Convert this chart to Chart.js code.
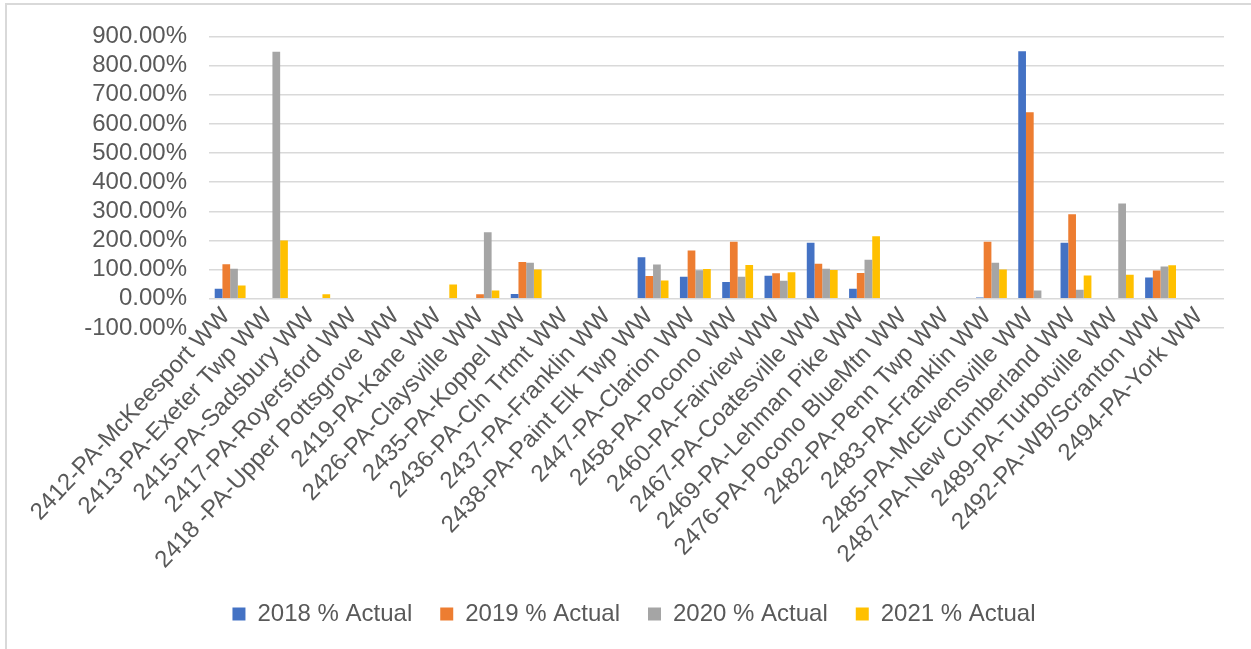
<!DOCTYPE html>
<html>
<head>
<meta charset="utf-8">
<script src="https://cdn.jsdelivr.net/npm/chart.js@4.4.1/dist/chart.umd.min.js"></script>
<style>
    html, body { margin: 0; padding: 0; background: #fff; overflow: hidden; }
    #wrap { position: relative; width: 1251px; height: 649px; }
    #frame {
        position: absolute; left: 5px; top: 3px; width: 1300px; height: 700px;
        border-left: 2px solid #d9d9d9; border-top: 2px solid #d9d9d9;
    }
    #plantChart { position: absolute; left: 0; top: 0; }
</style>
</head>
<body>
<div id="wrap">
    <div id="frame"></div>
    <canvas id="plantChart" width="1251" height="649"></canvas>
</div>
<script>
// plants, in the order they appear on the axis
var plants = [
    '2412-PA-McKeesport WW', '2413-PA-Exeter Twp WW', '2415-PA-Sadsbury WW',
    '2417-PA-Royersford WW', '2418 -PA-Upper Pottsgrove WW', '2419-PA-Kane WW',
    '2426-PA-Claysville WW', '2435-PA-Koppel WW', '2436-PA-Cln Trtmt WW',
    '2437-PA-Franklin WW', '2438-PA-Paint Elk Twp WW', '2447-PA-Clarion WW',
    '2458-PA-Pocono WW', '2460-PA-Fairview WW', '2467-PA-Coatesville WW',
    '2469-PA-Lehman Pike WW', '2476-PA-Pocono BlueMtn WW', '2482-PA-Penn Twp WW',
    '2483-PA-Franklin WW', '2485-PA-McEwensville WW', '2487-PA-New Cumberland WW',
    '2489-PA-Turbotville WW', '2492-PA-WB/Scranton WW', '2494-PA-York WW'
];

// % actual per year (null = no value)
var actual2018 = [35, null, null, null, null, null, null, 17, null, null, 143, 76,
    58, 79, 192, 35, null, null, 5, 849, 192, null, 73, null];
var actual2019 = [119, null, null, null, null, null, 16, 126, null, null, 78, 166,
    196, 88, 120, 89, null, null, 196, 640, 290, null, 97, null];
var actual2020 = [103, 847, null, null, null, null, 228, 124, null, null, 118, 98,
    76, 62, 103, 134, null, null, 124, 29, 31, 327, 111, null];
var actual2021 = [46, 200, 16, null, null, 49, 29, 101, null, null, 63, 102,
    116, 91, 99, 215, null, null, 101, null, 80, 83, 115, null];

var yMin = -100, yMax = 900, yStep = 100;

var textColor = '#595959';
var fontFamily = '"Liberation Sans", Arial, sans-serif';

function series(label, data, color) {
    return {
        label: label,
        data: data,
        backgroundColor: color,
        borderWidth: 0,
        barPercentage: 1,
        categoryPercentage: 0.73
    };
}

var ctx = document.getElementById('plantChart').getContext('2d');
var chart = new Chart(ctx, {
    type: 'bar',
    data: {
        labels: plants,
        datasets: [
            series('2018 % Actual', actual2018, '#4472C4'),
            series('2019 % Actual', actual2019, '#ED7D31'),
            series('2020 % Actual', actual2020, '#A5A5A5'),
            series('2021 % Actual', actual2021, '#FFC000')
        ]
    },
    options: {
        responsive: false,
        animation: false,
        layout: {
            // left padding nudges the legend right; y axis width makes up the rest
            padding: { top: 32, right: 27, bottom: 13, left: 44 }
        },
        scales: {
            x: {
                grid: { display: false, drawTicks: false },
                border: { display: false },
                ticks: {
                    autoSkip: false,
                    minRotation: 47,
                    maxRotation: 47,
                    // mirror lifts the slanted labels up to the axis line without clipping them
                    mirror: true,
                    labelOffset: 17,
                    padding: 6,
                    color: textColor,
                    font: { family: fontFamily, size: 24 }
                },
                afterFit: function (scale) {
                    scale.height = 246;
                }
            },
            y: {
                min: yMin,
                max: yMax,
                grid: {
                    color: '#d9d9d9',
                    lineWidth: 1.5,
                    drawTicks: false
                },
                border: { display: false },
                ticks: {
                    stepSize: yStep,
                    autoSkip: false,
                    padding: 22,
                    color: textColor,
                    font: { family: fontFamily, size: 24 },
                    callback: function (value) {
                        return value.toFixed(2) + '%';
                    }
                },
                afterFit: function (scale) {
                    scale.width = 165;
                }
            }
        },
        plugins: {
            tooltip: { enabled: false },
            legend: {
                position: 'bottom',
                labels: {
                    boxWidth: 13,
                    boxHeight: 13,
                    padding: 28,
                    color: textColor,
                    font: { family: fontFamily, size: 24 }
                }
            }
        }
    }
});
</script>
</body>
</html>
